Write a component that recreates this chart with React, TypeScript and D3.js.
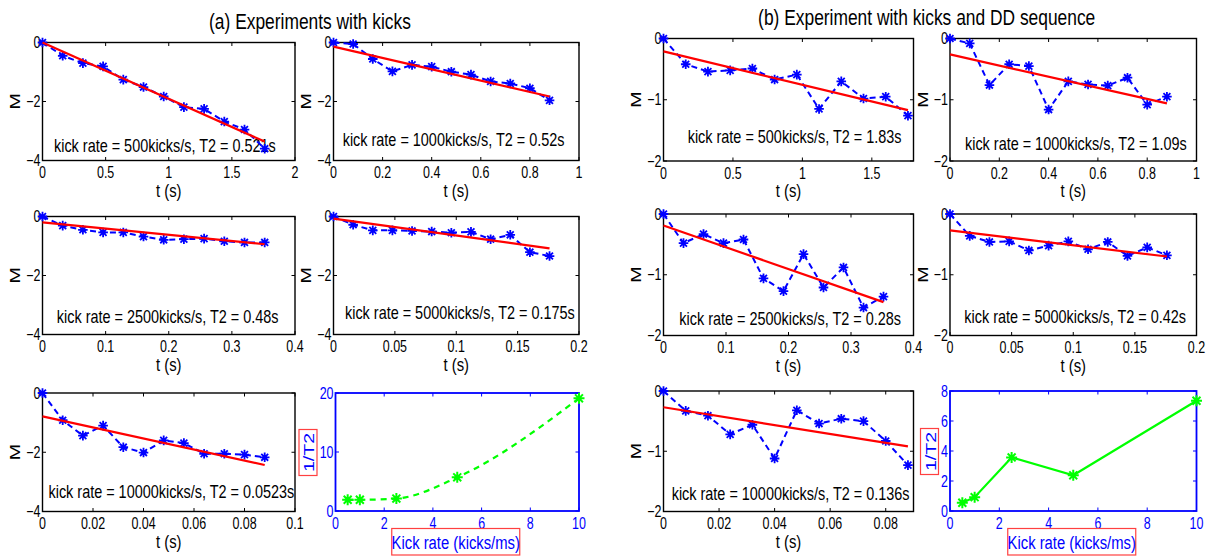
import * as d3 from 'd3'

// horizontal squeeze of the original figure's text
const SX = 0.78
const FONT = '"Liberation Sans", Arial, Helvetica, sans-serif'
const BLUE = '#0000ff'
const RED = '#ff0000'
const GREEN = '#00ff00'

// kick rates (kicks/s) and the same in kicks/ms
const kickRates = [500, 1000, 2500, 5000, 10000]
const kickRateMs = [0.5, 1, 2.5, 5, 10]

// sample times for each kick rate (s)
const t500 = [0, 0.16, 0.32, 0.48, 0.64, 0.8, 0.96, 1.12, 1.28, 1.44, 1.6, 1.76]
const t1000 = [0, 0.08, 0.16, 0.24, 0.32, 0.4, 0.48, 0.56, 0.64, 0.72, 0.8, 0.88]
const t2500 = [0, 0.032, 0.064, 0.096, 0.128, 0.16, 0.192, 0.224, 0.256, 0.288, 0.32, 0.352]
const t5000 = [0, 0.016, 0.032, 0.048, 0.064, 0.08, 0.096, 0.112, 0.128, 0.144, 0.16, 0.176]
const t10000 = [0, 0.008, 0.016, 0.024, 0.032, 0.04, 0.048, 0.056, 0.064, 0.072, 0.08, 0.088]
const times = [t500, t1000, t2500, t5000, t10000]

// (a) kicks only
const kicksM500 = [0, -0.45, -0.7, -0.81, -1.26, -1.51, -1.83, -2.19, -2.25, -2.68, -2.95, -3.6]
const kicksM1000 = [0, -0.05, -0.56, -0.98, -0.76, -0.82, -0.99, -1.09, -1.32, -1.39, -1.55, -1.96]
const kicksM2500 = [0, -0.31, -0.45, -0.54, -0.54, -0.68, -0.79, -0.77, -0.75, -0.84, -0.88, -0.88]
const kicksM5000 = [0, -0.28, -0.47, -0.47, -0.49, -0.51, -0.55, -0.52, -0.77, -0.62, -1.21, -1.34]
const kicksM10000 = [0, -0.92, -1.44, -1.1, -1.83, -2.01, -1.6, -1.69, -2.05, -2.05, -2.08, -2.17]
const kicksM = [kicksM500, kicksM1000, kicksM2500, kicksM5000, kicksM10000]
// fitted line value at first and last sample
const kicksFit = [[0, -3.36], [-0.14, -1.83], [-0.2, -0.94], [-0.07, -1.08], [-0.79, -2.43]]
const kicksT2 = ['0.521', '0.52', '0.48', '0.175', '0.0523']
const kicksInvT2 = [1.9, 1.9, 2.1, 5.7, 19.1]
const kicksXMax = [2, 1, 0.4, 0.2, 0.1]
const kicksXTicks = [
  [0, 0.5, 1, 1.5, 2],
  [0, 0.2, 0.4, 0.6, 0.8, 1],
  [0, 0.1, 0.2, 0.3, 0.4],
  [0, 0.05, 0.1, 0.15, 0.2],
  [0, 0.02, 0.04, 0.06, 0.08, 0.1],
]
const kicksYTicks = [0, -2, -4]
const kicksInvTicks = [0, 10, 20]

// (b) kicks + DD sequence
const ddM500 = [0, -0.42, -0.54, -0.52, -0.49, -0.67, -0.59, -1.15, -0.7, -0.98, -0.95, -1.26]
const ddM1000 = [0, -0.08, -0.76, -0.42, -0.45, -1.16, -0.7, -0.75, -0.77, -0.64, -1.08, -0.95]
const ddM2500 = [0, -0.48, -0.33, -0.48, -0.42, -1.06, -1.27, -0.66, -1.21, -0.88, -1.54, -1.36]
const ddM5000 = [0, -0.36, -0.46, -0.45, -0.6, -0.52, -0.45, -0.58, -0.46, -0.69, -0.55, -0.68]
const ddM10000 = [0, -0.33, -0.41, -0.72, -0.56, -1.12, -0.32, -0.54, -0.46, -0.5, -0.83, -1.23]
const ddM = [ddM500, ddM1000, ddM2500, ddM5000, ddM10000]
const ddFit = [[-0.21, -1.17], [-0.26, -1.06], [-0.19, -1.45], [-0.27, -0.7], [-0.27, -0.92]]
const ddT2 = ['1.83', '1.09', '0.28', '0.42', '0.136']
const ddInvT2 = [0.55, 0.92, 3.57, 2.38, 7.35]
const ddXMax = [1.8, 1, 0.4, 0.2, 0.09]
const ddXTicks = [
  [0, 0.5, 1, 1.5],
  [0, 0.2, 0.4, 0.6, 0.8, 1],
  [0, 0.1, 0.2, 0.3, 0.4],
  [0, 0.05, 0.1, 0.15, 0.2],
  [0, 0.02, 0.04, 0.06, 0.08],
]
const ddYTicks = [0, -1, -2]
const ddInvTicks = [0, 2, 4, 6, 8]

const rateTicks = [0, 2, 4, 6, 8, 10]

// layout of the two groups of panels
const groups = [
  {
    title: '(a) Experiments with kicks',
    titleX: 310, titleY: 28.5,
    cols: [[42.5, 295], [333.5, 579]],
    rows: [[42.5, 160.5], [216.5, 334.5], [393, 511.5]],
    rateBox: [335.5, 579, 393, 511],
    invLabelX: 308,
    notes: [[11.5, 109.2], [9.2, 103.2], [14.3, 106.2], [11.5, 102.8], [6, 105.3]],
    m: kicksM, fit: kicksFit, t2: kicksT2, inv: kicksInvT2,
    xMax: kicksXMax, xTicks: kicksXTicks, yTicks: kicksYTicks, yMin: -4,
    invTicks: kicksInvTicks, invMax: 20, dashed: true,
  },
  {
    title: '(b) Experiment with kicks and DD sequence',
    titleX: 926.7, titleY: 25,
    cols: [[663.5, 913.5], [950, 1196.5]],
    rows: [[38.5, 161], [214, 335.5], [391, 511.5]],
    rateBox: [950, 1196.5, 391, 511],
    invLabelX: 929.5,
    notes: [[24.2, 104.2], [15, 111.5], [15.8, 111], [14.3, 108.7], [8.2, 109]],
    m: ddM, fit: ddFit, t2: ddT2, inv: ddInvT2,
    xMax: ddXMax, xTicks: ddXTicks, yTicks: ddYTicks, yMin: -2,
    invTicks: ddInvTicks, invMax: 8, dashed: false,
  },
]

const fmt = d3.format('~g')

const Txt = ({ x, y, size, anchor = 'start', rot = false, fill = '#000', children }: any) => (
  <text
    transform={`translate(${x},${y}) scale(${SX},1)${rot ? ' rotate(-90)' : ''}`}
    fontSize={size}
    textAnchor={anchor}
    fill={fill}
  >
    {children}
  </text>
)

const starPath = (cx: number, cy: number, r: number) => {
  const d = r * 0.72
  return `M${cx - r},${cy}L${cx + r},${cy}M${cx},${cy - r}L${cx},${cy + r}` +
    `M${cx - d},${cy - d}L${cx + d},${cy + d}M${cx - d},${cy + d}L${cx + d},${cy - d}`
}

// box with inward ticks on all four sides, plus tick labels
function Axes({ x, y, xTicks, yTicks, color }: any) {
  const [l, r] = x.range()
  const [b, t] = y.range()
  const tl = 3.5
  return (
    <g>
      <rect x={l} y={t} width={r - l} height={b - t} fill="none" stroke={color} strokeWidth={color === BLUE ? 1.8 : 1.4} />
      {xTicks.map((v: number) => (
        <g key={'x' + v}>
          <line x1={x(v)} x2={x(v)} y1={b} y2={b - tl} stroke={color} strokeWidth={1} />
          <line x1={x(v)} x2={x(v)} y1={t} y2={t + tl} stroke={color} strokeWidth={1} />
          <Txt x={x(v)} y={b + 17.5} size={16} anchor="middle" fill={color}>{fmt(v)}</Txt>
        </g>
      ))}
      {yTicks.map((v: number) => (
        <g key={'y' + v}>
          <line x1={l} x2={l + tl} y1={y(v)} y2={y(v)} stroke={color} strokeWidth={1} />
          <line x1={r} x2={r - tl} y1={y(v)} y2={y(v)} stroke={color} strokeWidth={1} />
          <Txt x={l - 2} y={y(v) + 5.5} size={16} anchor="end" fill={color}>{fmt(v)}</Txt>
        </g>
      ))}
    </g>
  )
}

function DecayPanel({ box, g, i }: any) {
  const [l, r, t, b] = box
  const x = d3.scaleLinear().domain([0, g.xMax[i]]).range([l, r])
  const y = d3.scaleLinear().domain([g.yMin, 0]).range([b, t])
  const ts = times[i]
  const pts: [number, number][] = ts.map((v, k) => [x(v), y(g.m[i][k])])
  const fitPts: [number, number][] = [[x(ts[0]), y(g.fit[i][0])], [x(ts[ts.length - 1]), y(g.fit[i][1])]]
  const line = d3.line()
  const [nx, ny] = g.notes[i]
  return (
    <g>
      <Axes x={x} y={y} xTicks={g.xTicks[i]} yTicks={g.yTicks} color="#000" />
      <Txt x={(l + r) / 2} y={b + 36} size={19} anchor="middle">t (s)</Txt>
      <Txt x={l - 28 + 5.5} y={(t + b) / 2} size={19.5} anchor="middle" rot>M</Txt>
      <Txt x={l + nx} y={t + ny} size={18.5}>
        {`kick rate = ${kickRates[i]}kicks/s, T2 = ${g.t2[i]}s`}
      </Txt>
      <path d={line(pts) ?? ''} fill="none" stroke={BLUE} strokeWidth={2} strokeDasharray="6,4" />
      {pts.map((p, k) => (
        <path key={k} d={starPath(p[0], p[1], 4.8)} stroke={BLUE} strokeWidth={1.8} fill="none" />
      ))}
      <path d={line(fitPts) ?? ''} fill="none" stroke={RED} strokeWidth={2.2} />
    </g>
  )
}

function RatePanel({ g }: any) {
  const [l, r, t, b] = g.rateBox
  const x = d3.scaleLinear().domain([0, 10]).range([l, r])
  const y = d3.scaleLinear().domain([0, g.invMax]).range([b, t])
  const pts: [number, number][] = kickRateMs.map((v, k) => [x(v), y(g.inv[k])])
  const line = d3.line().curve(g.dashed ? d3.curveMonotoneX : d3.curveLinear)
  const cx = (l + r) / 2 - 1.5
  const cy = (t + b) / 2 + 0.5
  return (
    <g>
      <Axes x={x} y={y} xTicks={rateTicks} yTicks={g.invTicks} color={BLUE} />
      <rect x={g.invLabelX - 9} y={cy - 23} width={18} height={46} fill="none" stroke="#ff4040" strokeWidth={1.2} />
      <Txt x={g.invLabelX + 6} y={cy} size={19.5} anchor="middle" rot fill={BLUE}>1/T2</Txt>
      <rect x={cx - 64} y={b + 17.5} width={128} height={26.5} fill="none" stroke="#ff4040" strokeWidth={1.2} />
      <Txt x={cx} y={b + 38} size={19} anchor="middle" fill={BLUE}>Kick rate (kicks/ms)</Txt>
      <path d={line(pts) ?? ''} fill="none" stroke={GREEN} strokeWidth={2.2} strokeDasharray={g.dashed ? '6,5' : undefined} />
      {pts.map((p, k) => (
        <path key={k} d={starPath(p[0], p[1], 5.5)} stroke={GREEN} strokeWidth={2} fill="none" />
      ))}
    </g>
  )
}

export default function App() {
  return (
    <svg
      width={1219}
      height={556}
      style={{ position: 'absolute', left: 0, top: 0, background: '#fff' }}
      fontFamily={FONT}
    >
      <rect width={1219} height={556} fill="#fff" />
      {groups.map((g, gi) => (
        <g key={gi}>
          <Txt x={g.titleX} y={g.titleY} size={22.3} anchor="middle">{g.title}</Txt>
          {kickRates.map((_, i) => {
            const [l, r] = g.cols[i % 2]
            const [t, b] = g.rows[Math.floor(i / 2)]
            return <DecayPanel key={i} box={[l, r, t, b]} g={g} i={i} />
          })}
          <RatePanel g={g} />
        </g>
      ))}
    </svg>
  )
}
